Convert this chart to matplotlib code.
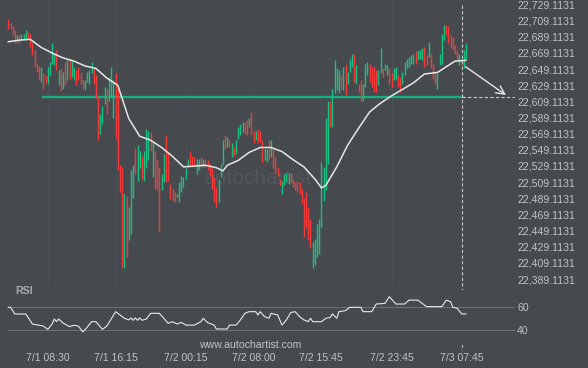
import matplotlib
matplotlib.use('Agg')
import matplotlib.pyplot as plt
import matplotlib.transforms as mtransforms
import numpy as np
import pandas as pnd

# DATA (15 minute candles, first bar 7/1 04:00)

opens = [22711, 22706, 22702, 22697, 22683, 22691, 22685, 22686, 22687, 22695,
         22692, 22681, 22673, 22656, 22653, 22633, 22644, 22642, 22631, 22642,
         22656, 22654, 22673, 22629, 22650, 22625, 22658, 22635, 22662, 22639,
         22635, 22648, 22652, 22646, 22635, 22623, 22633, 22631, 22644, 22652,
         22642, 22615, 22569, 22581, 22606, 22625, 22610, 22615, 22588, 22644,
         22627, 22530, 22528, 22403, 22492, 22437, 22445, 22490, 22552, 22511,
         22526, 22542, 22511, 22526, 22536, 22571, 22515, 22548, 22538, 22528,
         22499, 22509, 22567, 22546, 22507, 22501, 22497, 22491, 22484, 22497,
         22503, 22513, 22528, 22548, 22542, 22540, 22519, 22524, 22540, 22528,
         22538, 22536, 22532, 22526, 22515, 22503, 22484, 22515, 22530, 22567,
         22553, 22561, 22540, 22553, 22544, 22563, 22567, 22571, 22584, 22586,
         22577, 22596, 22573, 22561, 22575, 22573, 22561, 22536, 22534, 22561,
         22540, 22550, 22540, 22528, 22513, 22495, 22505, 22509, 22507, 22521,
         22513, 22509, 22511, 22509, 22501, 22490, 22497, 22478, 22464, 22403,
         22406, 22416, 22420, 22453, 22486, 22499, 22532, 22610, 22577, 22619,
         22623, 22619, 22642, 22623, 22654, 22631, 22646, 22652, 22668, 22631,
         22631, 22635, 22610, 22627, 22642, 22656, 22652, 22652, 22648, 22629,
         22644, 22650, 22648, 22642, 22650, 22644, 22635, 22637, 22642, 22639,
         22631, 22642, 22650, 22652, 22656, 22656, 22671, 22660, 22662, 22660,
         22677, 22666, 22664, 22668, 22656, 22646, 22625, 22654, 22656, 22685,
         22704, 22702, 22691, 22689, 22679, 22671, 22654, 22662, 22650, 22662]

closes = [22699, 22699, 22691, 22681, 22691, 22682, 22692, 22693, 22697, 22687,
          22677, 22666, 22652, 22646, 22635, 22652, 22625, 22632, 22652, 22658,
          22682, 22668, 22648, 22648, 22622, 22646, 22629, 22660, 22637, 22660,
          22652, 22629, 22635, 22631, 22625, 22635, 22646, 22648, 22658, 22631,
          22613, 22561, 22594, 22604, 22627, 22594, 22639, 22652, 22635, 22563,
          22524, 22497, 22404, 22495, 22416, 22478, 22524, 22530, 22519, 22555,
          22548, 22513, 22548, 22575, 22573, 22548, 22559, 22501, 22499, 22447,
          22519, 22544, 22509, 22511, 22488, 22486, 22484, 22495, 22509, 22517,
          22515, 22526, 22538, 22530, 22528, 22530, 22538, 22538, 22528, 22538,
          22528, 22524, 22517, 22501, 22484, 22478, 22513, 22532, 22561, 22550,
          22565, 22553, 22557, 22542, 22561, 22577, 22581, 22584, 22569, 22567,
          22588, 22567, 22557, 22573, 22557, 22559, 22534, 22550, 22550, 22538,
          22561, 22526, 22521, 22517, 22505, 22511, 22519, 22521, 22521, 22509,
          22503, 22499, 22497, 22495, 22482, 22441, 22453, 22437, 22428, 22435,
          22439, 22457, 22463, 22534, 22528, 22588, 22610, 22577, 22625, 22660,
          22650, 22648, 22625, 22652, 22617, 22646, 22662, 22668, 22633, 22654,
          22621, 22610, 22631, 22656, 22658, 22633, 22627, 22621, 22621, 22648,
          22675, 22639, 22656, 22654, 22631, 22627, 22650, 22652, 22627, 22621,
          22646, 22658, 22662, 22664, 22666, 22668, 22656, 22673, 22673, 22675,
          22652, 22654, 22683, 22650, 22637, 22631, 22644, 22668, 22693, 22704,
          22691, 22681, 22675, 22673, 22668, 22660, 22668, 22654, 22673, 22681]

# moving average read at some bars
ma_idx = [0, 5, 10, 15, 20, 25, 30, 35, 40, 45, 50, 55, 60, 65, 70, 75, 80, 85,
          90, 95, 98, 100, 105, 110, 115, 120, 125, 130, 135, 140, 143, 145, 150,
          155, 160, 165, 170, 175, 180, 185, 190, 193, 196, 200, 204, 209]
ma_vals = [22683, 22685, 22686, 22676, 22669, 22663, 22659, 22653, 22650, 22638,
           22629, 22588, 22566, 22561, 22552, 22541, 22528, 22529, 22530, 22527,
           22523, 22530, 22536, 22546, 22552, 22552, 22547, 22537, 22528, 22513,
           22502, 22505, 22528, 22555, 22576, 22596, 22607, 22616, 22624, 22632,
           22643, 22644, 22645, 22652, 22659, 22660]

# RSI read at its turning points
rsi_idx = [0, 1, 3, 8, 10, 11, 16, 18, 20, 21, 22, 23, 25, 28, 30, 32, 34, 36,
           38, 40, 43, 45, 49, 51, 53, 55, 56, 57, 58, 59, 60, 61, 63, 65, 69,
           73, 75, 77, 79, 81, 85, 88, 89, 91, 94, 95, 100, 101, 104, 106, 108,
           110, 113, 114, 115, 117, 119, 120, 123, 125, 127, 129, 131, 133, 135,
           137, 138, 139, 143, 145, 147, 148, 150, 151, 154, 156, 161, 162, 166,
           168, 172, 174, 177, 181, 183, 187, 191, 198, 200, 202, 203, 205, 207, 209]
rsi_vals = [59.5, 59.5, 53.8, 53.8, 48.2, 45.3, 43.6, 40.8, 45.3, 49.6, 47.3, 49.6,
            46.1, 43.1, 44.2, 43.6, 38.6, 42.5, 47.3, 47.3, 40.8, 43.6, 55.8, 53.0,
            50.2, 48.8, 50.5, 48.5, 50.5, 48.5, 50.5, 48.5, 49.5, 54.4, 54.4, 45.9,
            47.3, 45.3, 46.7, 44.4, 44.4, 47.3, 50.2, 46.5, 44.4, 41.1, 41.1, 44.4,
            44.4, 48.8, 54.4, 55.8, 55.8, 53.0, 55.8, 51.6, 50.2, 54.4, 53.0, 44.4,
            48.8, 55.1, 55.8, 51.6, 48.8, 47.3, 50.2, 47.3, 47.3, 50.2, 50.8, 53.9,
            50.2, 55.8, 56.7, 59.5, 59.5, 55.8, 55.8, 62.3, 62.8, 68.5, 62.3, 62.3,
            65.6, 65.6, 60.1, 60.1, 65.6, 64.2, 59.5, 58.7, 53.9, 53.9]

tick_times = ['2024-07-01 08:30', '2024-07-01 16:15', '2024-07-02 00:15',
              '2024-07-02 08:00', '2024-07-02 15:45', '2024-07-02 23:45',
              '2024-07-03 07:45']

support_level = 22615
forecast_bar = 207                 # bar of the dashed vertical line
arrow_from = (207.8, 22654)
arrow_to = (228.3, 22615)

# COLORS
bg = '#464a4f'
green = '#19c283'
red = '#f23b3a'
txt = '#bfc2c6'

plt.rcParams['font.family'] = ['Liberation Sans', 'DejaVu Sans']

times = pnd.date_range('2024-07-01 04:00', periods=len(opens), freq='15min')
tick_pos = [times.get_loc(pnd.Timestamp(t)) for t in tick_times]
tick_lbl = [f"{pnd.Timestamp(t).month}/{pnd.Timestamp(t).day} {pnd.Timestamp(t):%H:%M}" for t in tick_times]

W, H = 588, 368
fig = plt.figure(figsize=(W / 100, H / 100), dpi=100, facecolor=bg)
ax = fig.add_axes([0, 1 - 285 / H, 515 / W, 285 / H], facecolor=bg)
ax_rsi = fig.add_axes([0, 1 - 345 / H, 515 / W, 55 / H], facecolor=bg)

xlim = (-3.8, 231.4)

# faint vertical grid
for p in tick_pos:
    ax.axvline(p, color='#4c5056', lw=0.8, zorder=0)

# candles
idx = np.arange(len(opens))
o = np.array(opens, dtype=float)
c = np.array(closes, dtype=float)
cols = np.where(c >= o, green, red)
lo = np.minimum(o, c)
hi = np.maximum(o, c)
hi = np.maximum(hi, lo + 1.5)
ax.vlines(idx, lo, hi, colors=cols, linewidth=1.0, zorder=3)

# moving average
ax.plot(ma_idx, ma_vals, color='#e6e6e6', lw=1.1, zorder=4)

# support line + dashed projection
ax.plot([16, forecast_bar], [support_level, support_level], color='#14b07e', lw=1.7, zorder=2)
ax.plot([forecast_bar, xlim[1]], [support_level, support_level], color='#c8c8c8',
        lw=0.8, ls=(0, (3, 2)), zorder=2)

# forecast arrow
ax.annotate('', xy=arrow_to, xytext=arrow_from,
            arrowprops=dict(arrowstyle='->,head_length=0.6,head_width=0.3',
                            color='#e6e6e6', lw=1.0), zorder=5)

# watermark
ax.text(0.5, 0.375, 'autochartist', transform=ax.transAxes, ha='center', va='center',
        fontsize=15, color='#53575c', zorder=1)

ax.set_xlim(*xlim)
ax.set_ylim(22381.7, 22734.7)
yt = [22389.1131 + 20 * k for k in range(18)]
ax.set_yticks(yt)
ax.set_yticklabels([f'{v:,.4f}' for v in yt])
ax.yaxis.tick_right()
ax.tick_params(axis='y', length=0, pad=1.5, labelsize=7.6, labelcolor=txt)
ax.set_xticks([])
for s in ax.spines.values():
    s.set_visible(False)

# RSI panel
ax_rsi.hlines([40, 60], -0.5, xlim[1], color='#6b6f74', lw=0.8)
ax_rsi.plot(rsi_idx, rsi_vals, color='#e8e8e8', lw=0.8)
ax_rsi.set_xlim(*xlim)
ax_rsi.set_ylim(27.5, 74.2)
ax_rsi.set_yticks([40, 60])
ax_rsi.yaxis.tick_right()
ax_rsi.tick_params(axis='y', length=0, pad=1.5, labelsize=7.6, labelcolor=txt)
ax_rsi.set_xticks(tick_pos)
ax_rsi.set_xticklabels(tick_lbl)
ax_rsi.tick_params(axis='x', length=0, pad=6, labelsize=7.6, labelcolor=txt)
for s in ax_rsi.spines.values():
    s.set_visible(False)

fig.text(15 / W, 1 - 291 / H, 'RSI', fontsize=7.6, fontweight='bold', color='#a9adb1',
         ha='left', va='center')
fig.text(250 / W, 1 - 345 / H, 'www.autochartist.com', fontsize=7.6, color=txt,
         ha='center', va='center')

# dashed vertical line over both panels
tr = mtransforms.blended_transform_factory(ax.transData, fig.transFigure)
ax.plot([forecast_bar, forecast_bar], [1 - 5 / H, 1 - 350 / H], transform=tr,
        clip_on=False, color='#c8c8c8', lw=0.8, ls=(0, (3, 2)), zorder=6)

fig.savefig('out.png', dpi=100, facecolor=bg)
